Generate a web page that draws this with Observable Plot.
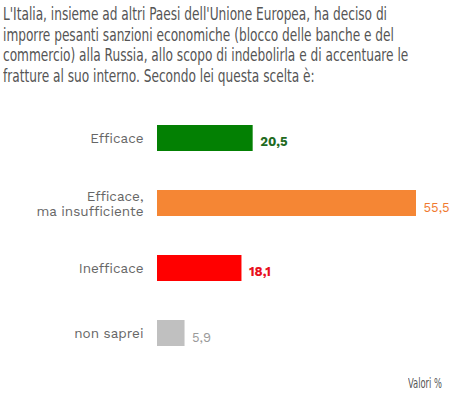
<!DOCTYPE html>
<html>
<head>
<meta charset="utf-8">
<script src="https://cdn.jsdelivr.net/npm/d3@7"></script>
<script src="https://cdn.jsdelivr.net/npm/@observablehq/plot@0.6"></script>
<style>
  html, body { margin: 0; padding: 0; background: #fff; }
  #wrap { width: 461px; height: 395px; position: relative; overflow: hidden; }
  #title {
    position: absolute; left: 3px; top: 4px;
    font-family: "DejaVu Sans", sans-serif; font-stretch: condensed;
    font-size: 17.5px; line-height: 20.5px; color: #555; white-space: nowrap;
    transform-origin: 0 0;
  }
  #chart { position: absolute; left: 0; top: 100px; }
  #caption {
    position: absolute; left: 408px; top: 375px;
    font-family: "DejaVu Sans", sans-serif; font-stretch: condensed;
    font-size: 13.5px; color: #555; white-space: nowrap; transform-origin: 0 0;
  }
</style>
</head>
<body>
<div id="wrap">
  <div id="title"><span id="t1">L'Italia, insieme ad altri Paesi dell'Unione Europea, ha deciso di</span><br>imporre pesanti sanzioni economiche (blocco delle banche e del<br>commercio) alla Russia, allo scopo di indebolirla e di accentuare le<br>fratture al suo interno. Secondo lei questa scelta è:</div>
  <div id="chart"></div>
  <div id="caption">Valori %</div>
</div>
<script>
const categories = ["Efficace", "Efficace,\nma insufficiente", "Inefficace", "non saprei"];
const values = [20.5, 55.5, 18.1, 5.9];
const barColors = ["#038003", "#f58634", "#ff0000", "#c0c0c0"];
const labelColors = ["#1f6b1f", "#f07a30", "#e8101e", "#9a9a9a"];
const boldLabels = [true, false, true, false];

const data = categories.map((c, i) => ({
  cat: c, value: values[i], bar: barColors[i], lab: labelColors[i], bold: boldLabels[i]
}));
const fmt = d => d.value.toFixed(1).replace(".", ",");

const chart = Plot.plot({
  width: 461,
  height: 271,
  marginTop: 4,
  marginBottom: 4,
  marginLeft: 157,
  marginRight: 24,
  style: { fontFamily: "'Work Sans', 'Open Sans', sans-serif", background: "#fff" },
  x: { domain: [0, 60], axis: null },
  y: { domain: categories, paddingInner: 0.6, paddingOuter: 0.3, label: null },
  marks: [
    Plot.barX(data, { y: "cat", x: "value", fill: "bar" }),
    Plot.text(data.filter(d => d.bold), {
      y: "cat", x: "value", text: fmt,
      fill: "lab", fontWeight: "bold", textAnchor: "start", dx: 7, dy: 3, fontSize: 13
    }),
    Plot.text(data.filter(d => !d.bold), {
      y: "cat", x: "value", text: fmt,
      fill: "lab", textAnchor: "start", dx: 7, dy: 4, fontSize: 13
    }),
    Plot.axisY({ tickSize: 0, tickPadding: 14, fontSize: 13.5, color: "#666", lineHeight: 1.15, label: null })
  ]
});
document.getElementById("chart").appendChild(chart);

// fit title to the reference width (~384px for first line)
const t1 = document.getElementById("t1");
const w = t1.getBoundingClientRect().width;
document.getElementById("title").style.transform = `scaleX(${384 / w})`;
const cap = document.getElementById("caption");
const cw = cap.getBoundingClientRect().width;
cap.style.transform = `scaleX(${34 / cw})`;
</script>
</body>
</html>
